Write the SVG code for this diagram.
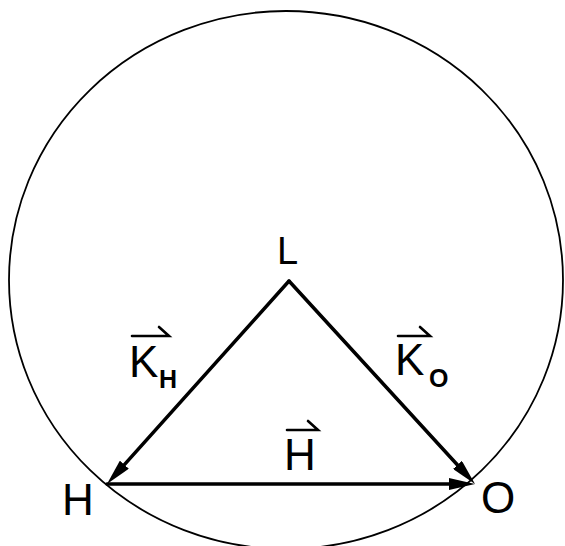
<svg xmlns="http://www.w3.org/2000/svg" width="565" height="546" viewBox="0 0 565 546">
  <style>
    .lbl { font-family: "Liberation Sans", Arial, sans-serif; fill: #000; }
    .big { font-size: 44px; }
    .sub { font-size: 25px; font-weight: bold; }
    .vec { fill: none; stroke: #000; stroke-width: 3.5; stroke-linecap: round; }
    .harp { fill: none; stroke: #000; stroke-width: 2.6; stroke-linecap: round; stroke-linejoin: miter; }
  </style>
  <defs>
    <marker id="ah" viewBox="0 0 26 12" refX="14" refY="6" markerWidth="26" markerHeight="12" markerUnits="userSpaceOnUse" orient="auto">
      <path d="M0,0 L26,6 L0,12 Z" fill="#000"/>
    </marker>
  </defs>
  <rect width="565" height="546" fill="#fff"/>
  <ellipse id="circle" cx="286" cy="280" rx="277" ry="269" fill="none" stroke="#000" stroke-width="1.8"/>

  <g id="connectors">
    <line class="vec" x1="289" y1="281" x2="115" y2="475.1" marker-end="url(#ah)"/>
    <line class="vec" x1="289" y1="281" x2="466.9" y2="475.2" marker-end="url(#ah)"/>
    <line class="vec" x1="107" y1="484" x2="463" y2="484" marker-end="url(#ah)"/>
    <g id="label-KH">
      <path class="harp" d="M132,336 H169 L159,327"/>
      <text class="lbl big" x="129" y="377">K</text>
      <text class="lbl sub" x="159" y="388">H</text>
    </g>
    <g id="label-KO">
      <path class="harp" d="M398,336 H430 L420,327"/>
      <text class="lbl big" x="395" y="375">K</text>
      <text class="lbl sub" x="429" y="387">O</text>
    </g>
    <g id="label-H">
      <path class="harp" d="M287,430 H318 L308,421"/>
      <text class="lbl big" x="284" y="470">H</text>
    </g>
  </g>

  <g id="node-L">
    <text class="lbl" x="277" y="264" font-size="38">L</text>
  </g>
  <g id="node-H">
    <text class="lbl big" x="62" y="515">H</text>
  </g>
  <g id="node-O">
    <text class="lbl big" x="481" y="513">O</text>
  </g>
</svg>
